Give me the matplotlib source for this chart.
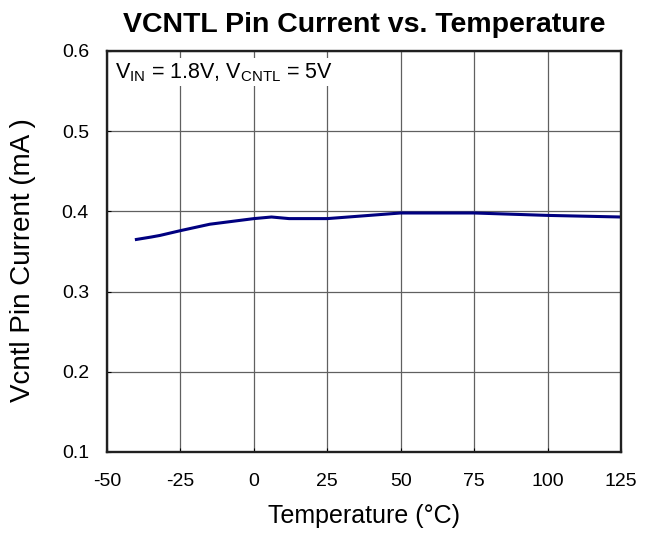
import numpy as np
import matplotlib.pyplot as plt

plt.rcParams['font.family'] = ['Liberation Sans', 'DejaVu Sans']
plt.rcParams['mathtext.fontset'] = 'custom'
plt.rcParams['mathtext.rm'] = 'Liberation Sans'
plt.rcParams['axes.unicode_minus'] = False

# temperature (deg C) and VCNTL pin current (mA)
temp = [-40, -35, -32, -25, -15, 0, 6, 12, 25, 50, 75, 100, 125]
current = [0.365, 0.368, 0.370, 0.376, 0.384, 0.391, 0.393, 0.391, 0.391,
           0.398, 0.398, 0.395, 0.393]

xticks = [-50, -25, 0, 25, 50, 75, 100, 125]
yticks = [0.1, 0.2, 0.3, 0.4, 0.5, 0.6]

fig = plt.figure(figsize=(6.57, 5.34), dpi=100)
ax = fig.add_axes([0.1629, 0.1536, 0.7823, 0.7509])

ax.plot(temp, current, color='#000080', linewidth=2.2)

ax.set_xlim(-50, 125)
ax.set_ylim(0.1, 0.6)
ax.set_xticks(xticks)
ax.set_yticks(yticks)
ax.set_yticklabels(['%.1f' % v for v in yticks])
ax.grid(True, color='#606060', linewidth=0.9)
ax.tick_params(direction='in', labelsize=14, length=3)
ax.tick_params(axis='y', pad=13)
ax.tick_params(axis='x', pad=15)
for s in ax.spines.values():
    s.set_linewidth(1.7)
    s.set_color('#202020')

ax.set_xlabel('Temperature (°C)', fontsize=18, labelpad=10)
ax.set_ylabel('Vcntl Pin Current (mA )', fontsize=20)
ax.yaxis.set_label_coords(-0.138, 0.479)
ax.set_title('VCNTL Pin Current vs. Temperature', fontsize=20.5,
             fontweight='bold', pad=14)

ax.text(-47.3, 0.5735, r'V$_{\mathrm{IN}}$ = 1.8V, V$_{\mathrm{CNTL}}$ = 5V',
        fontsize=15.5, va='center', ha='left',
        bbox=dict(facecolor='white', edgecolor='none', pad=2))

fig.savefig('out.png', dpi=100)
